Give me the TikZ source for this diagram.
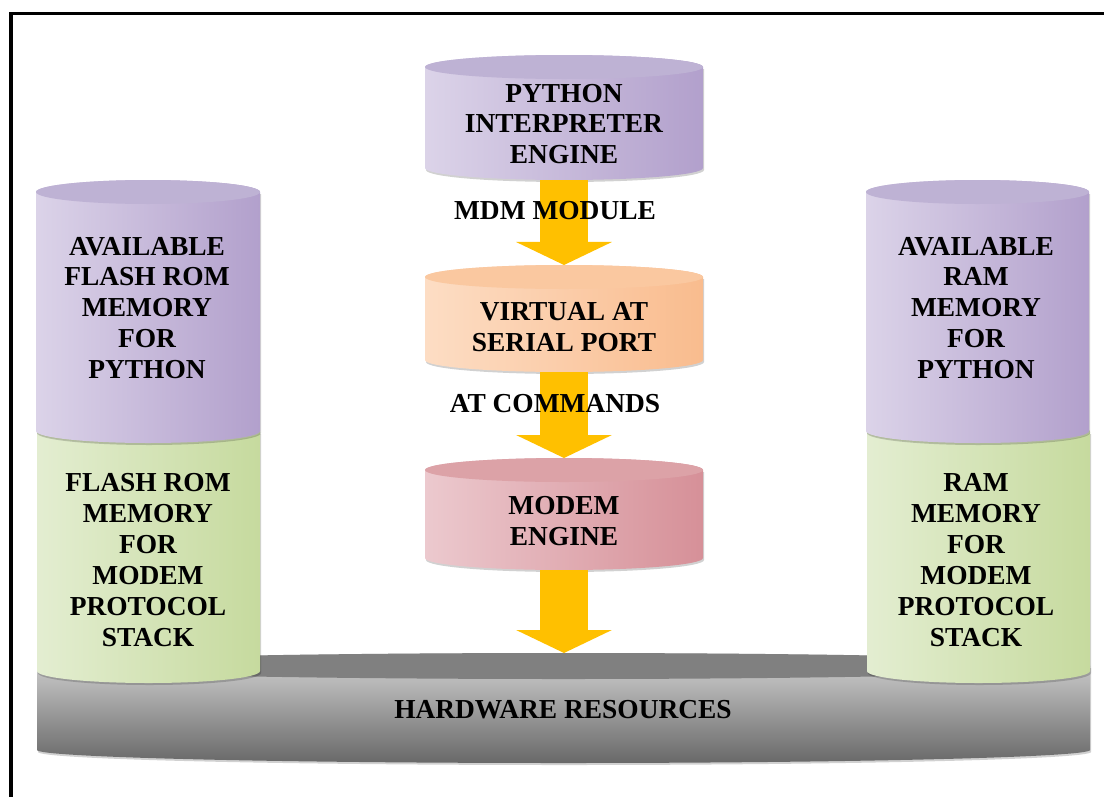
\documentclass[tikz,border=0pt]{standalone}
\usepackage{fontspec}
\setmainfont{Liberation Serif}
\usepackage{xcolor}
\usepackage{tikz}
\usetikzlibrary{arrows.meta}

% colours of the drums
\definecolor{purpL}{RGB}{233,228,242}
\definecolor{purpD}{RGB}{178,160,204}
\definecolor{purpT}{RGB}{190,178,212}
\definecolor{grnL}{RGB}{237,244,226}
\definecolor{grnD}{RGB}{198,218,158}
\definecolor{grnT}{RGB}{214,228,186}
\definecolor{orgL}{RGB}{254,232,214}
\definecolor{orgD}{RGB}{249,188,142}
\definecolor{orgT}{RGB}{250,200,160}
\definecolor{redL}{RGB}{243,220,224}
\definecolor{redD}{RGB}{214,144,152}
\definecolor{redT}{RGB}{220,162,167}
\definecolor{hwTop}{RGB}{128,128,128}
\definecolor{hwL}{RGB}{212,212,212}
\definecolor{hwD}{RGB}{104,104,104}
\definecolor{gold}{RGB}{255,192,0}

% drum: name, x left, x right, y top, y bottom, colour prefix
\newcommand{\drum}[6]{%
  \pgfmathsetmacro{\rx}{(#3-#2)/2}
  \pgfmathsetmacro{\cx}{(#2+#3)/2}
  \fill[black, opacity=0.18]
    (#2+1,#4+14) -- (#2+1,#5-10)
    arc[start angle=180, end angle=0, x radius=\rx, y radius=12]
    -- (#3+1,#4+14) -- cycle;
  \shade[left color=#6L!75!#6D, middle color=#6L, right color=#6D]
    (#2,#4+12) -- (#2,#5-12)
    arc[start angle=180, end angle=0, x radius=\rx, y radius=12]
    -- (#3,#4+12)
    arc[start angle=0, end angle=-180, x radius=\rx, y radius=12] -- cycle;
  \fill[#6T] (\cx,#4+12) ellipse[x radius=\rx, y radius=12];
  \coordinate (#1 top) at (\cx,#4);
  \coordinate (#1 bot) at (\cx,#5);
}

\begin{document}
\begin{tikzpicture}
[x=0.025cm, y=-0.025cm,
lbl/.style={font=\fontsize{19.5}{22}\selectfont\bfseries, align=center, inner sep=0pt},
bigarrow/.style={draw=gold, line width=1.2cm, line cap=butt,
  -{Triangle[length=0.575cm 0 0, width=2.375cm 0 0]}}]
\useasboundingbox (0,0) rectangle (1104,796);

% frame
\draw[line width=0.075cm] (1110,13) -- (11,13) -- (11,800);

% hardware platform
\fill[black, opacity=0.18]
  (38,668) -- (38,752)
  arc[start angle=180, end angle=0, x radius=526.5, y radius=13]
  -- (1091,668) -- cycle;
\shade[top color=hwL, bottom color=hwD]
  (37,666) -- (37,750)
  arc[start angle=180, end angle=0, x radius=526.5, y radius=13]
  -- (1090,666)
  arc[start angle=0, end angle=-180, x radius=526.5, y radius=13] -- cycle;
\fill[hwTop] (563.5,666) ellipse[x radius=526.5, y radius=13];
\coordinate (hw top) at (564,653);
\node[lbl] (hw) at (563,710) {HARDWARE RESOURCES};

% side drums
\drum{flashB}{37}{260}{420}{683}{grn}
\drum{flashA}{36}{260}{180}{443}{purp}
\drum{ramB}{867}{1090}{420}{683}{grn}
\drum{ramA}{866}{1089}{180}{443}{purp}

\node[lbl] (flashpy) at (147,308) {AVAILABLE\\FLASH ROM\\MEMORY\\FOR\\PYTHON};
\node[lbl] (flashmd) at (148,560) {FLASH ROM\\MEMORY\\FOR\\MODEM\\PROTOCOL\\STACK};
\node[lbl] (rampy) at (976,308) {AVAILABLE\\RAM\\MEMORY\\FOR\\PYTHON};
\node[lbl] (rammd) at (976,560) {RAM\\MEMORY\\FOR\\MODEM\\PROTOCOL\\STACK};

% middle stack
\drum{py}{425}{703}{55}{180}{purp}
\drum{vat}{425}{703}{265}{372}{org}
\drum{mdm}{425}{703}{458}{570}{red}

\node[lbl] (pytxt) at (564,124) {PYTHON\\INTERPRETER\\ENGINE};
\node[lbl] (vattxt) at (564,327) {VIRTUAL AT\\SERIAL PORT};
\node[lbl] (mdmtxt) at (564,521) {MODEM\\ENGINE};

% arrows
\draw[bigarrow] (py bot) -- (vat top);
\draw[bigarrow] (vat bot) -- (mdm top);
\draw[bigarrow] (mdm bot) -- (hw top);

\node[lbl] (mdmmod) at (555,211) {MDM MODULE};
\node[lbl] (atcmd) at (555,404) {AT COMMANDS};
\end{tikzpicture}
\end{document}
